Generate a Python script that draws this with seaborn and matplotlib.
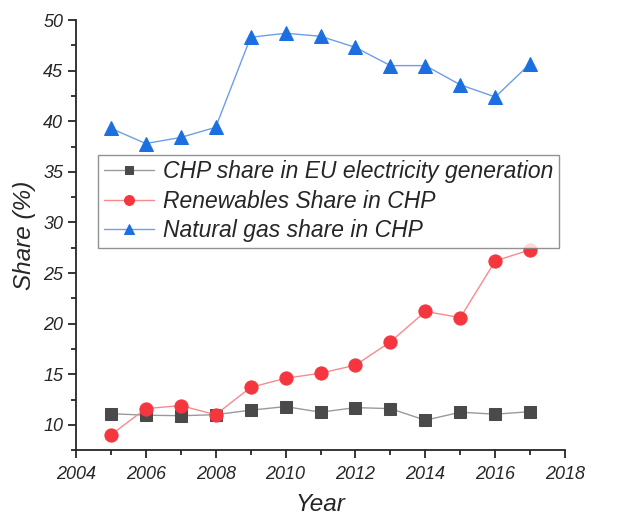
import pandas as pd
import seaborn as sns
import matplotlib.pyplot as plt
from matplotlib.ticker import MultipleLocator

years = [2005, 2006, 2007, 2008, 2009, 2010, 2011, 2012, 2013, 2014, 2015, 2016, 2017]
chp_share = [11.1, 10.95, 10.9, 11.0, 11.45, 11.8, 11.25, 11.7, 11.6, 10.45, 11.25, 11.05, 11.3]
renewables = [9.0, 11.6, 11.9, 11.0, 13.7, 14.6, 15.1, 15.9, 18.2, 21.2, 20.6, 26.2, 27.3]
natural_gas = [39.3, 37.8, 38.4, 39.4, 48.3, 48.7, 48.4, 47.3, 45.5, 45.5, 43.6, 42.4, 45.7]

labels = ['CHP share in EU electricity generation', 'Renewables Share in CHP', 'Natural gas share in CHP']

sns.set_style('ticks')
plt.rcParams['font.family'] = ['Liberation Sans', 'DejaVu Sans']

fig = plt.figure(figsize=(6.43, 5.15), dpi=100)
ax = fig.add_axes([0.118, 0.126, 0.761, 0.835])

# (values, marker, marker colour, line colour, marker size)
series = [
    (chp_share, 's', '#4a4a4a', '#9a9a9a', 8.5),
    (renewables, 'o', '#f5363f', '#f88a8f', 9.5),
    (natural_gas, '^', '#1b6fe0', '#6b9fea', 10.5),
]
for (vals, mk, mc, lc, ms), lab in zip(series, labels):
    sns.lineplot(x=years, y=vals, ax=ax, color=lc, linewidth=1, marker=mk,
                 markersize=ms, markerfacecolor=mc, markeredgecolor=mc, label=lab)

ax.set_xlim(2004, 2018)
ax.set_ylim(7.5, 50)
ax.xaxis.set_major_locator(MultipleLocator(2))
ax.xaxis.set_minor_locator(MultipleLocator(1))
ax.yaxis.set_major_locator(MultipleLocator(5))
ax.yaxis.set_minor_locator(MultipleLocator(2.5))
ax.tick_params(which='major', length=5.5, width=1.3, labelsize=13)
ax.tick_params(axis='x', which='major', pad=6)
ax.tick_params(which='minor', length=3.5, width=1.3)
for t in ax.get_xticklabels() + ax.get_yticklabels():
    t.set_style('italic')
for s in ['left', 'bottom']:
    ax.spines[s].set_linewidth(1.3)
sns.despine(ax=ax)

ax.set_xlabel('Year', fontsize=17.5, style='italic', labelpad=7)
ax.set_ylabel('Share (%)', fontsize=17.5, style='italic', labelpad=5)

leg = ax.legend(loc='upper left', bbox_to_anchor=(0.045, 0.687),
                prop={'style': 'italic', 'size': 16.5}, frameon=True, fancybox=False,
                edgecolor='#777777', borderpad=0.25, labelspacing=0.28, handlelength=2.2,
                handletextpad=0.4, borderaxespad=0, markerscale=0.75)
leg.get_frame().set_linewidth(1)

fig.savefig('out.png', dpi=100)
